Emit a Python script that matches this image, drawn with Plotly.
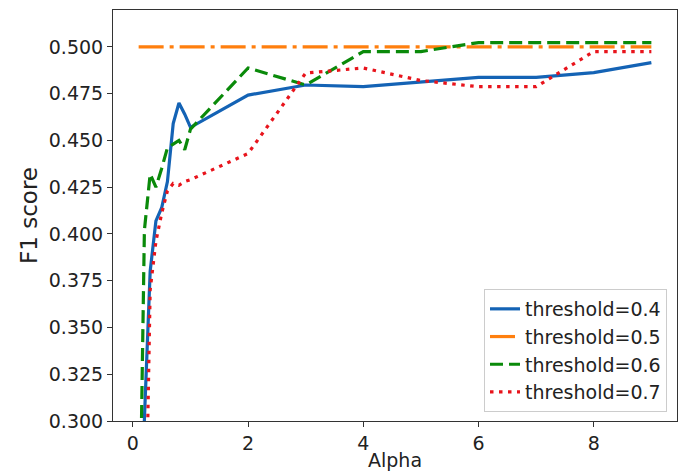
import plotly.graph_objects as go

alpha = [0.1, 0.2, 0.3, 0.4, 0.5, 0.6, 0.7, 0.8, 0.9, 1, 2, 3, 4, 5, 6, 7, 8, 9]
f1_t04 = [0.20, 0.301, 0.380, 0.407, 0.414, 0.428, 0.459, 0.470, 0.464, 0.457,
          0.4742, 0.4796, 0.4787, 0.4814, 0.4837, 0.4837, 0.4862, 0.4916]
f1_t05 = [0.5] * 18
f1_t06 = [0.20, 0.402, 0.432, 0.425, 0.435, 0.446, 0.448, 0.450, 0.445, 0.456,
          0.4887, 0.4796, 0.4975, 0.4975, 0.5023, 0.5023, 0.5023, 0.5023]
f1_t07 = [0.10, 0.20, 0.370, 0.396, 0.411, 0.423, 0.427, 0.426, 0.428, 0.429,
          0.443, 0.486, 0.4887, 0.482, 0.4787, 0.4787, 0.4975, 0.4975]
series_names = ["threshold=0.4", "threshold=0.5", "threshold=0.6", "threshold=0.7"]
x_ticks = [0, 2, 4, 6, 8]
y_ticks = [0.300, 0.325, 0.350, 0.375, 0.400, 0.425, 0.450, 0.475, 0.500]

colors = ["#1463b5", "#ff7f0e", "#0a8a0a", "#e8141c"]
dashes = ["solid", "25px,6px,4px,6px", "13px,6px", "3.5px,5.5px"]

fig = go.Figure()
for i, (name, ys) in enumerate(zip(series_names, [f1_t04, f1_t05, f1_t06, f1_t07])):
    fig.add_trace(go.Scatter(
        x=alpha, y=ys, mode="lines", name=name,
        line=dict(color=colors[i], width=3.2, dash=dashes[i]),
    ))

font_family = "DejaVu Sans"
txt = "#222222"
fs = 19
fig.update_layout(
    width=686, height=471,
    margin=dict(l=113, r=9, t=10, b=50),
    paper_bgcolor="white", plot_bgcolor="white",
    font=dict(family=font_family, size=fs, color=txt),
    legend=dict(
        x=(667 - 113) / 564, y=(421 - 412) / 411, xanchor="right", yanchor="bottom",
        bgcolor="rgba(255,255,255,0.85)", bordercolor="#cccccc", borderwidth=1,
        font=dict(family=font_family, size=fs, color=txt),
    ),
    showlegend=True,
    annotations=[dict(
        text="Alpha", xref="paper", yref="paper", x=0.5, y=(421 - 460) / 411,
        xanchor="center", yanchor="middle", showarrow=False,
        font=dict(family=font_family, size=fs, color=txt),
    )],
)
fig.update_xaxes(
    range=[-0.345, 9.445], tickvals=x_ticks, ticks="outside", ticklen=5,
    tickwidth=1, tickcolor="#333", showline=True, linecolor="#333", linewidth=1,
    mirror=True, showgrid=False, zeroline=False, automargin=False,
)
fig.update_yaxes(
    range=[0.3, 0.5197], tickvals=y_ticks, tickformat=".3f", ticks="outside",
    ticklen=5, tickwidth=1, tickcolor="#333", showline=True, linecolor="#333",
    linewidth=1, mirror=True, showgrid=False, zeroline=False, automargin=False,
    title=dict(text="F1 score", standoff=4),
)
fig.write_html("out.html", config={"displayModeBar": False},
               post_script="document.body.style.margin='0';document.body.style.overflow='hidden';")
